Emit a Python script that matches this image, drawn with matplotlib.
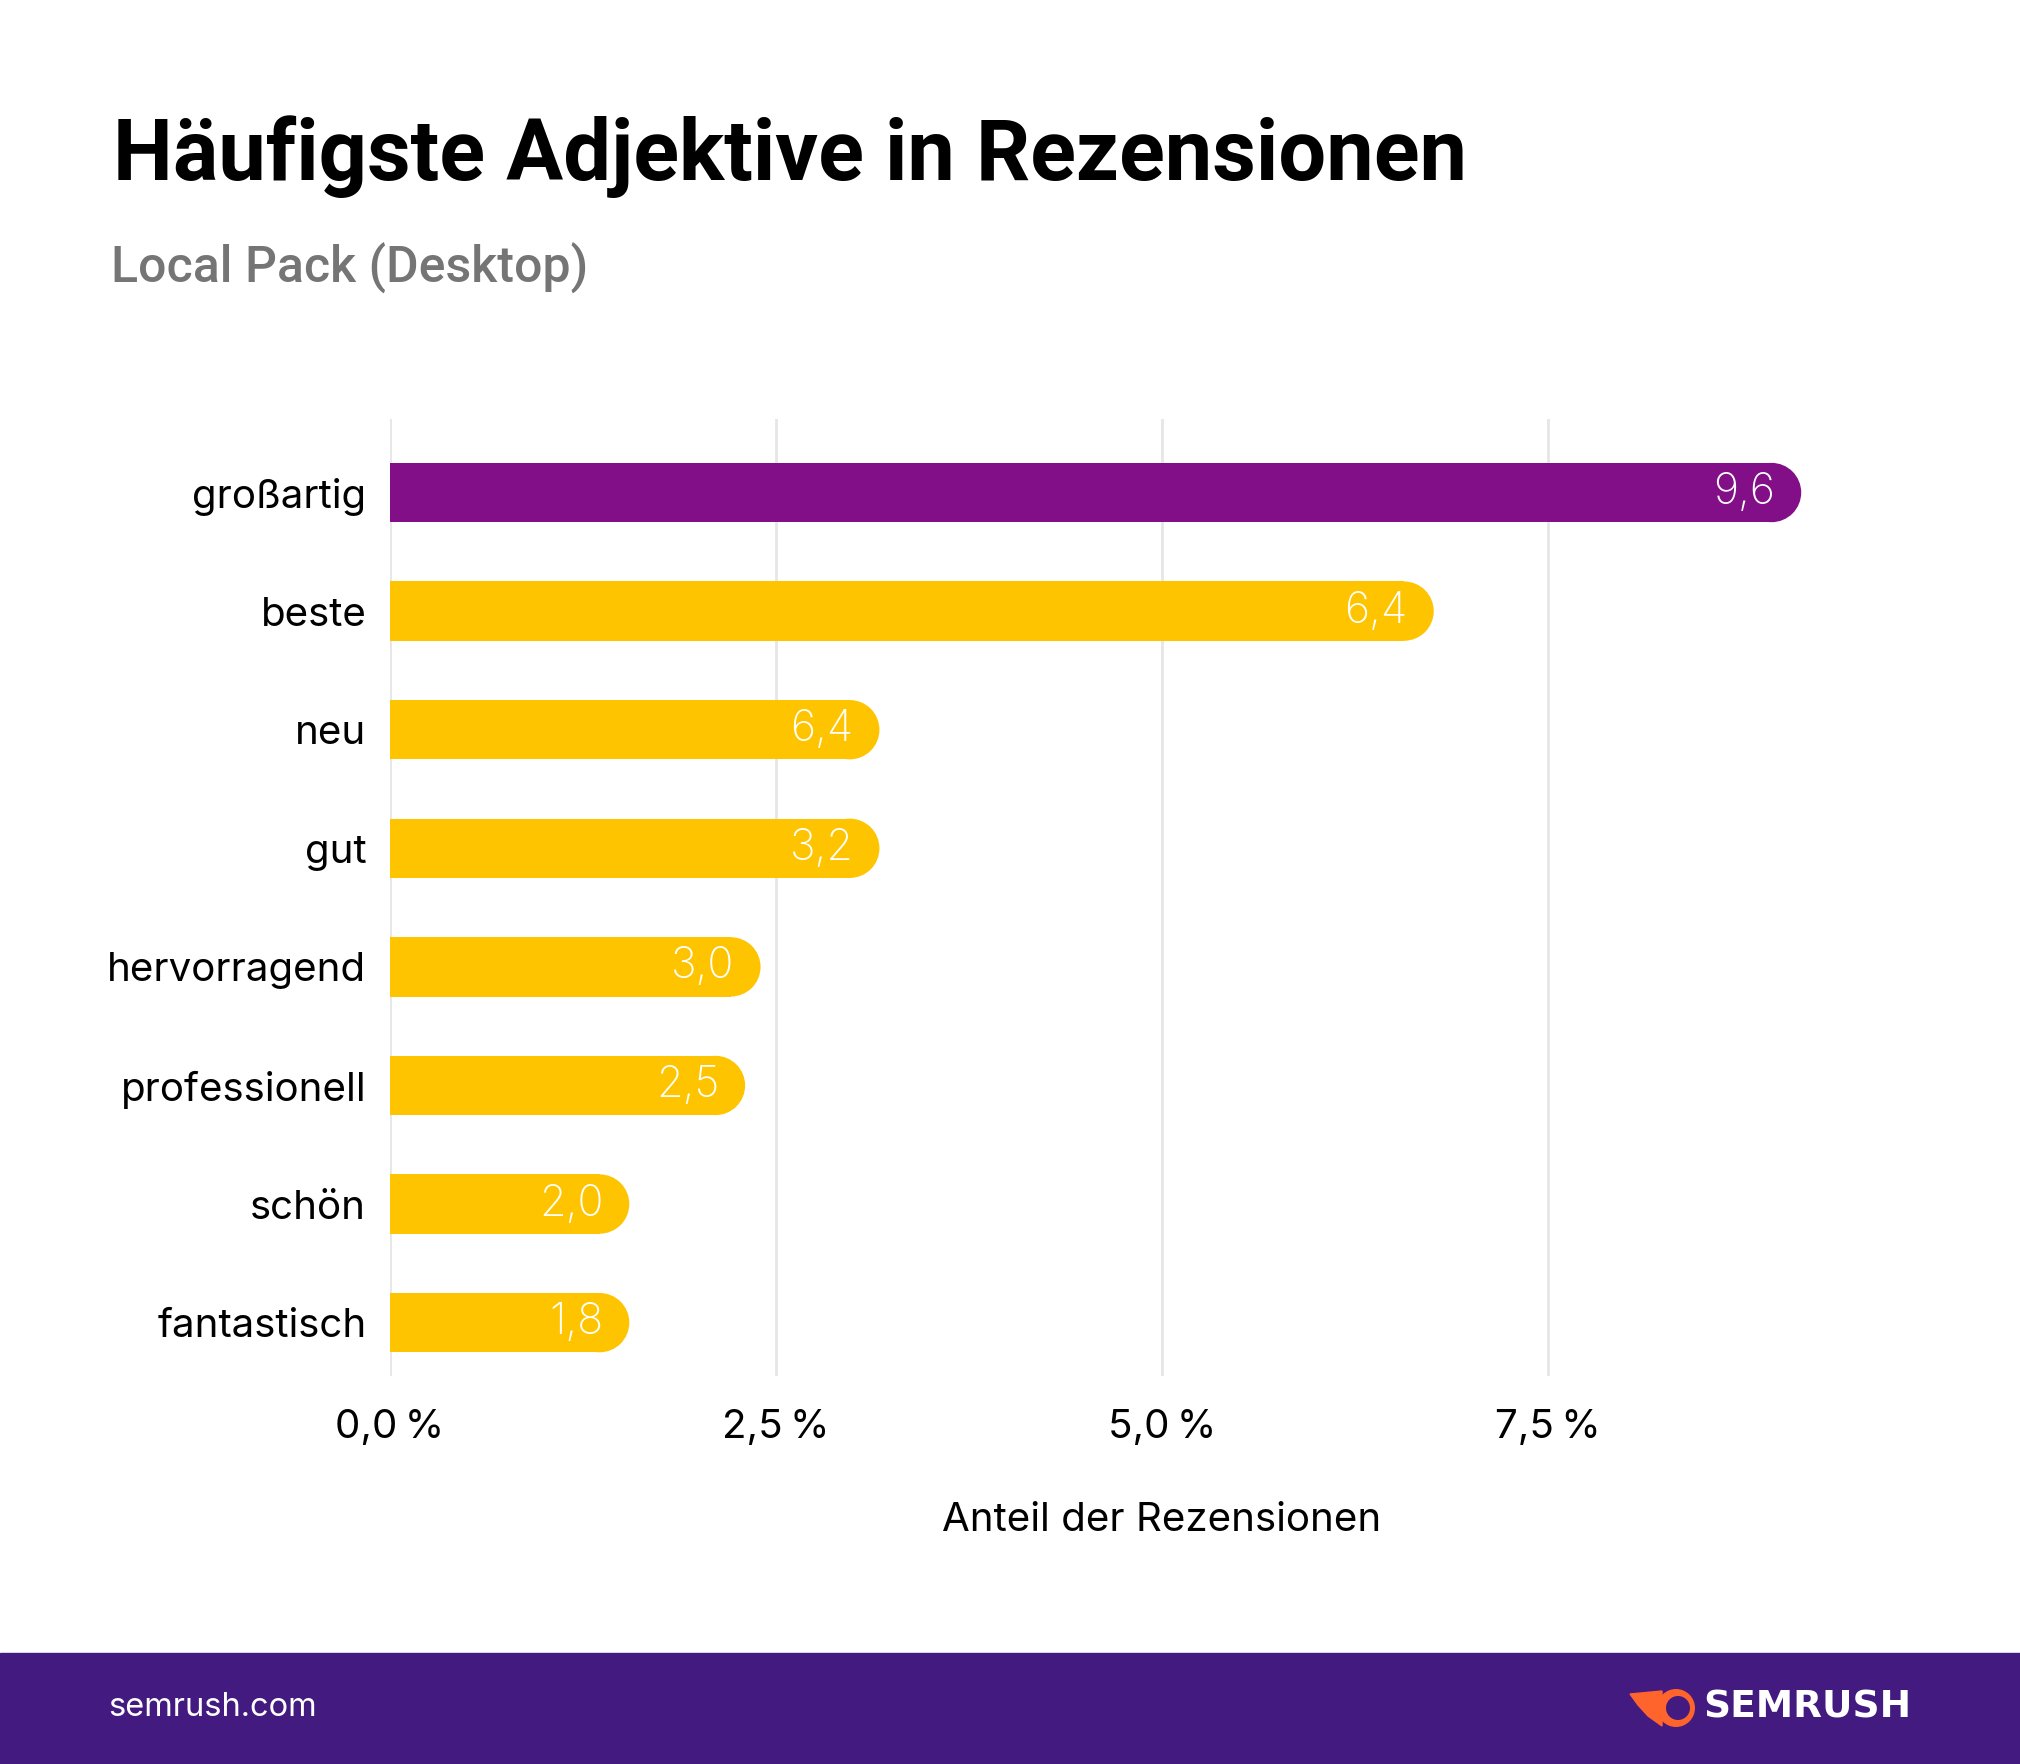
import numpy as np
import matplotlib
matplotlib.use("Agg")
from matplotlib import pyplot as plt
from matplotlib.patches import Ellipse, Rectangle, Polygon

plt.rcParams['font.family'] = ['Inter', 'DejaVu Sans']

# data
categories = ["großartig", "beste", "neu", "gut", "hervorragend", "professionell", "schön", "fantastisch"]
bar_lengths = [9.14, 6.76, 3.17, 3.17, 2.40, 2.30, 1.55, 1.55]   # drawn length in %
value_labels = ["9,6", "6,4", "6,4", "3,2", "3,0", "2,5", "2,0", "1,8"]
tick_values = [0.0, 2.5, 5.0, 7.5]
tick_labels = ["0,0\u202f%", "2,5\u202f%", "5,0\u202f%", "7,5\u202f%"]

PURPLE = "#820f87"
YELLOW = "#ffc400"
FOOTER = "#421a80"
ORANGE = "#ff642d"

W, H = 2020, 1764
fig = plt.figure(figsize=(W / 100, H / 100), dpi=100)

ax_left, ax_right = 390 / W, 1934 / W
ax_top, ax_bot = 1 - 419 / H, 1 - 1376 / H
ax = fig.add_axes([ax_left, ax_bot, ax_right - ax_left, ax_top - ax_bot])

bar_h = 0.5
ax.set_xlim(0, 10)
ax.set_ylim(7.45, -0.62)

# pixel size of one data unit, to make round caps
px_x = (ax_right - ax_left) * W / 10
px_y = (ax_top - ax_bot) * H / (7.45 + 0.62)
rx = bar_h * px_y / 2 / px_x

y = np.arange(len(categories))
colors = [PURPLE] + [YELLOW] * (len(categories) - 1)
for yi, v, c, lab in zip(y, bar_lengths, colors, value_labels):
    ax.barh(yi, v - rx, height=bar_h, color=c, zorder=3, linewidth=0)
    ax.add_patch(Ellipse((v - rx, yi), 2 * rx, bar_h, color=c, zorder=3, linewidth=0))
    ax.text(v - 26 / px_x, yi, lab, ha="right", va="center", color="white",
            fontsize=31, fontweight="light", zorder=4)

ax.set_yticks(y)
ax.set_yticklabels(categories, fontsize=29)
ax.set_xticks(tick_values)
ax.set_xticklabels(tick_labels, fontsize=29)
ax.tick_params(axis="y", length=0, pad=17)
ax.tick_params(axis="x", length=0, pad=24)
ax.grid(axis="x", color="#e6e6e6", linewidth=2, zorder=0)
for s in ax.spines.values():
    s.set_visible(False)
ax.set_xlabel("Anteil der Rezensionen", fontsize=29, labelpad=40)

# title and subtitle
fig.text(113 / W, 1 - 180 / H, "Häufigste Adjektive in Rezensionen", fontsize=61,
         fontweight="bold", color="black", ha="left", va="baseline",
         family=["Roboto", "DejaVu Sans"])
fig.text(111 / W, 1 - 283 / H, "Local Pack (Desktop)", fontsize=36,
         color="#757575", ha="left", va="baseline", fontweight="medium",
         family=["Roboto", "DejaVu Sans"])

# footer band
fig.add_artist(Rectangle((0, 0), 1, (H - 1653) / H, transform=fig.transFigure,
                         color=FOOTER, zorder=0))
fig.text(108 / W, 1 - 1708 / H, "semrush.com", fontsize=23.5, color="white",
         ha="left", va="center")

# logo
cx, cy = 1676 / W, 1 - 1708 / H
fig.add_artist(Polygon([(1630 / W, 1 - 1694 / H), (1662 / W, 1 - 1691 / H),
                        (1662 / W, 1 - 1726 / H), (1648 / W, 1 - 1716 / H),
                        (1638 / W, 1 - 1705 / H)],
                       closed=True, color=ORANGE, transform=fig.transFigure))
fig.add_artist(Ellipse((cx, cy), 38 / W, 38 / H, transform=fig.transFigure,
                       facecolor=ORANGE, edgecolor="none"))
fig.add_artist(Ellipse((cx + 2 / W, cy), 24 / W, 24 / H, transform=fig.transFigure,
                       facecolor=FOOTER, edgecolor="none"))
fig.text(1703 / W, 1 - 1708 / H, "SEMRUSH", fontsize=27, fontweight="heavy",
         color="white", ha="left", va="center", family=["DejaVu Sans"])

fig.savefig("out.png", dpi=100)
